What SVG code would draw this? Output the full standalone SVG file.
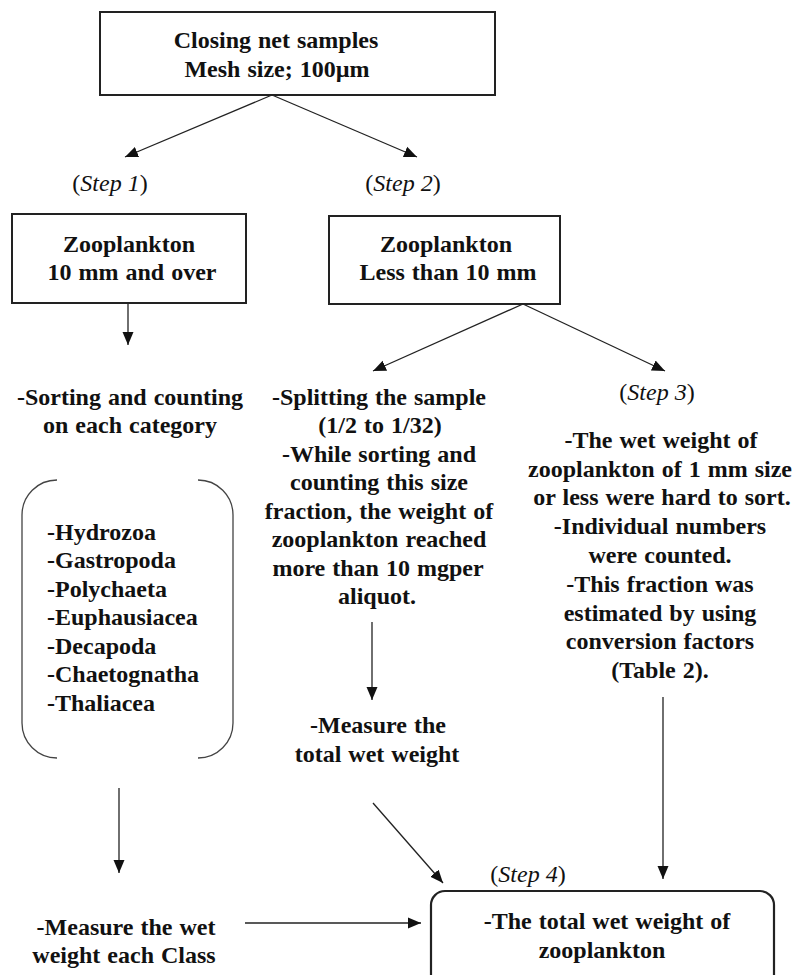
<svg xmlns="http://www.w3.org/2000/svg" width="797" height="975" viewBox="0 0 797 975">
<defs>
<marker id="ah" markerUnits="userSpaceOnUse" markerWidth="14" markerHeight="12" refX="13" refY="6" orient="auto">
<path d="M0,0.5 L13,6 L0,11.5 Z" fill="#111"/>
</marker>
<style>
.t{font-family:"Liberation Serif","Times New Roman",serif;font-weight:bold;font-size:24px;word-spacing:1px;fill:#111}
.c{text-anchor:middle}
.s{font-family:"Liberation Serif","Times New Roman",serif;font-size:24px;fill:#111;text-anchor:middle}
.box{fill:#fff;stroke:#222;stroke-width:2}
.br{fill:none;stroke:#444;stroke-width:1.3}
.ln{fill:none;stroke:#222;stroke-width:1.3;marker-end:url(#ah)}
</style>
</defs>
<rect width="797" height="975" fill="#fff"/>

<g id="connectors">
<line class="ln" x1="272" y1="95" x2="125" y2="157"/>
<line class="ln" x1="272" y1="95" x2="417" y2="157"/>
<line class="ln" x1="128" y1="303" x2="128" y2="345"/>
<line class="ln" x1="523" y1="304" x2="373" y2="371"/>
<line class="ln" x1="523" y1="304" x2="665" y2="371"/>
<line class="ln" x1="372" y1="622" x2="372" y2="700"/>
<line class="ln" x1="663" y1="697" x2="663" y2="879"/>
<line class="ln" x1="373" y1="803" x2="443" y2="883"/>
<line class="ln" x1="119" y1="788" x2="119" y2="873"/>
<line class="ln" x1="245" y1="923" x2="421" y2="923"/>
</g>

<g id="root">
<rect class="box" x="100" y="12" width="395" height="83"/>
<text class="t c" x="276" y="48">Closing net samples</text>
<text class="t c" x="277" y="77">Mesh size; 100µm</text>
</g>

<g id="step1-label">
<text class="s" x="110" y="191">(<tspan font-style="italic">Step 1</tspan>)</text>
</g>
<g id="step2-label">
<text class="s" x="403" y="191">(<tspan font-style="italic">Step 2</tspan>)</text>
</g>

<g id="zoo-large">
<rect class="box" x="12" y="214" width="234" height="89"/>
<text class="t c" x="129" y="252">Zooplankton</text>
<text class="t c" x="132" y="280">10 mm and over</text>
</g>

<g id="zoo-small">
<rect class="box" x="329" y="216" width="231" height="88"/>
<text class="t c" x="446" y="252">Zooplankton</text>
<text class="t c" x="448" y="280">Less than 10 mm</text>
</g>

<g id="sorting">
<text class="t c" x="130" y="405">-Sorting and counting</text>
<text class="t c" x="130" y="433">on each category</text>
</g>

<g id="categories">
<path class="br" d="M57,480 A35,35 0 0 0 22,515 L22,723 A35,35 0 0 0 57,758"/>
<path class="br" d="M198,480 A35,35 0 0 1 233,515 L233,723 A35,35 0 0 1 198,758"/>
<text class="t" x="47" y="540">-Hydrozoa</text>
<text class="t" x="47" y="568">-Gastropoda</text>
<text class="t" x="47" y="597">-Polychaeta</text>
<text class="t" x="47" y="625">-Euphausiacea</text>
<text class="t" x="47" y="654">-Decapoda</text>
<text class="t" x="47" y="682">-Chaetognatha</text>
<text class="t" x="47" y="711">-Thaliacea</text>
</g>

<g id="splitting">
<text class="t c" x="379" y="405">-Splitting the sample</text>
<text class="t c" x="380" y="433">(1/2 to 1/32)</text>
<text class="t c" x="379" y="462">-While sorting and</text>
<text class="t c" x="379" y="490">counting this size</text>
<text class="t c" x="379" y="519">fraction, the weight of</text>
<text class="t c" x="379" y="547">zooplankton reached</text>
<text class="t c" x="378" y="576">more than 10 mgper</text>
<text class="t c" x="377" y="604">aliquot.</text>
</g>

<g id="step3-label">
<text class="s" x="657" y="400">(<tspan font-style="italic">Step 3</tspan>)</text>
</g>

<g id="step3">
<text class="t c" x="661" y="448">-The wet weight of</text>
<text class="t c" x="660" y="477">zooplankton of 1 mm size</text>
<text class="t c" x="662" y="505">or less were hard to sort.</text>
<text class="t c" x="660" y="534">-Individual numbers</text>
<text class="t c" x="660" y="563">were counted.</text>
<text class="t c" x="660" y="592">-This fraction was</text>
<text class="t c" x="660" y="621">estimated by using</text>
<text class="t c" x="660" y="649">conversion factors</text>
<text class="t c" x="660" y="678">(Table 2).</text>
</g>

<g id="measure-total">
<text class="t c" x="378" y="733">-Measure the</text>
<text class="t c" x="377" y="762">total wet weight</text>
</g>

<g id="measure-class">
<text class="t c" x="126" y="935">-Measure the wet</text>
<text class="t c" x="124" y="963">weight each Class</text>
</g>

<g id="step4-label">
<text class="s" x="528" y="882">(<tspan font-style="italic">Step 4</tspan>)</text>
</g>

<g id="total">
<rect x="431" y="891" width="343" height="110" rx="14" fill="#fff" stroke="#222" stroke-width="2.2"/>
<text class="t c" x="607" y="929">-The total wet weight of</text>
<text class="t c" x="602" y="958">zooplankton</text>
</g>
</svg>
